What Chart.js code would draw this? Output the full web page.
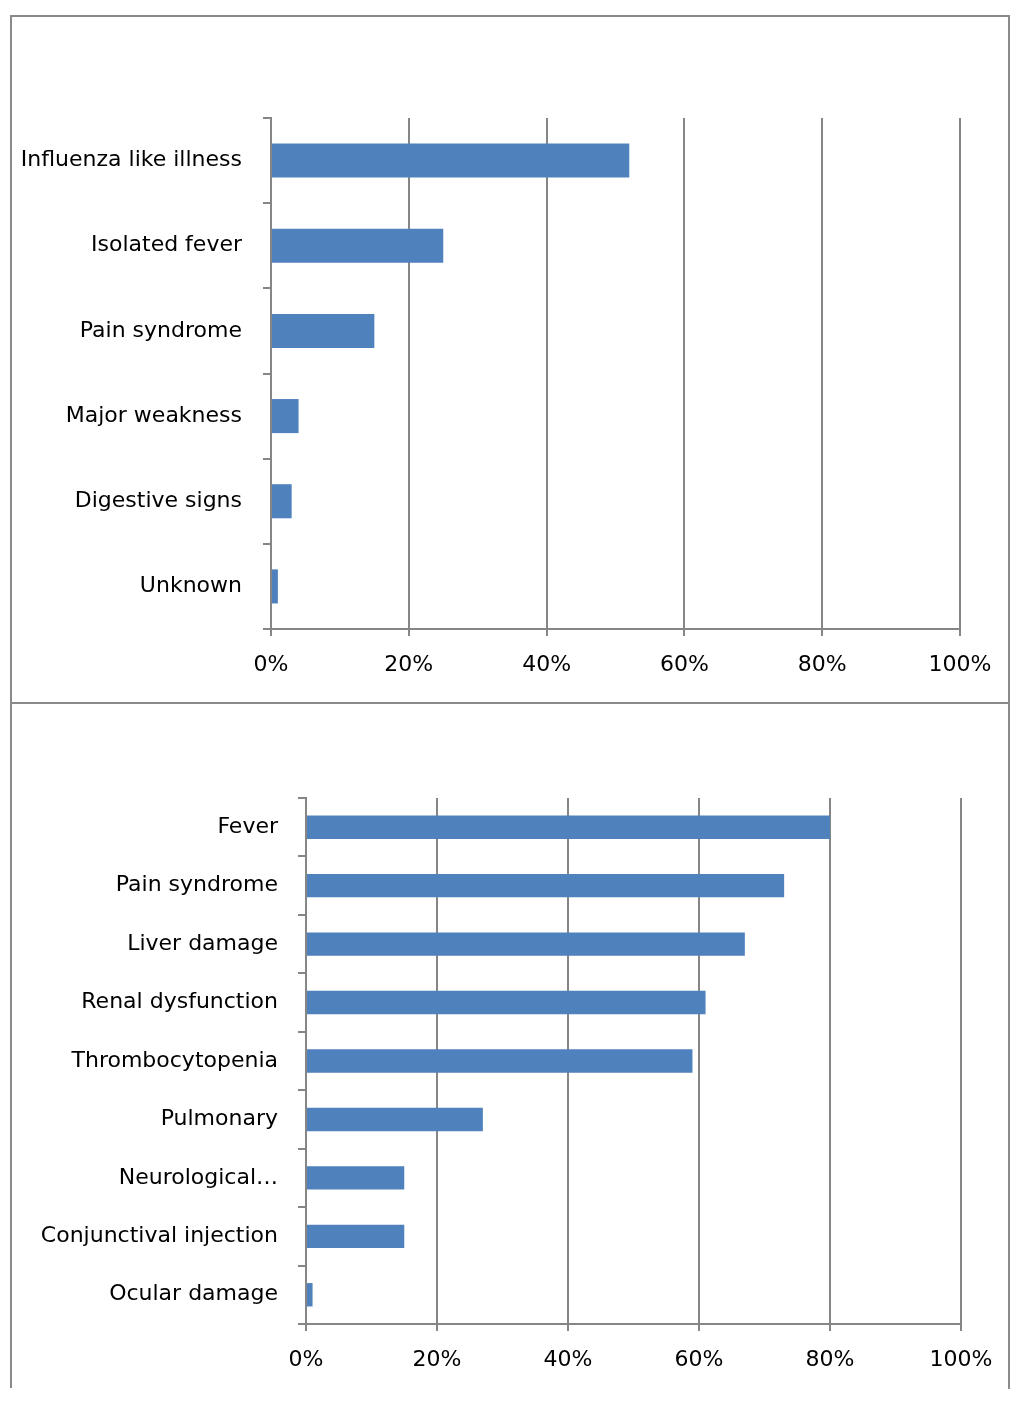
<!DOCTYPE html>
<html>
<head>
<meta charset="utf-8">
<script src="https://cdn.jsdelivr.net/npm/chart.js@4.4.0/dist/chart.umd.min.js"></script>
<style>
  html, body { margin: 0; padding: 0; background: #fff; }
  body { width: 1024px; height: 1409px; position: relative; overflow: hidden; }
  .box { position: absolute; left: 0; width: 1024px; }
  .frame { position: absolute; background: #8a8a8a; }
</style>
</head>
<body>
<div class="box" style="top:0;height:703px"><canvas id="symptomsChart"></canvas></div>
<div class="box" style="top:703px;height:706px"><canvas id="signsChart"></canvas></div>

<!-- outer frame: top, left, right, divider -->
<div class="frame" style="left:10px;top:15px;width:1000px;height:2px"></div>
<div class="frame" style="left:10px;top:15px;width:2px;height:1373px"></div>
<div class="frame" style="left:1008px;top:15px;width:2px;height:1374px"></div>
<div class="frame" style="left:10px;top:702px;width:1000px;height:2px"></div>

<script>
// top chart: first symptoms
const symptomLabels = ['Influenza like illness', 'Isolated fever', 'Pain syndrome', 'Major weakness', 'Digestive signs', 'Unknown'];
const symptomValues = [52, 25, 15, 4, 3, 1];

// bottom chart: clinical signs
const signLabels = ['Fever', 'Pain syndrome', 'Liver damage', 'Renal dysfunction', 'Thrombocytopenia', 'Pulmonary', 'Neurological\u2026', 'Conjunctival injection', 'Ocular damage'];
const signValues = [80, 73, 67, 61, 59, 27, 15, 15, 1];

const xTicks = [0, 20, 40, 60, 80, 100];

const gridGray = '#868686';
const barBlue = '#4F81BD';
const labelFont = { family: 'DejaVu Sans, sans-serif', size: 22 };

function makeChart(id, labels, values, box) {
  const ctx = document.getElementById(id).getContext('2d');
  return new Chart(ctx, {
    type: 'bar',
    data: {
      labels: labels,
      datasets: [{
        data: values,
        backgroundColor: barBlue,
        borderWidth: 0,
        categoryPercentage: 1,
        barPercentage: 0.4
      }]
    },
    options: {
      indexAxis: 'y',
      responsive: true,
      maintainAspectRatio: false,
      animation: false,
      layout: { padding: { top: box.top, right: box.right, left: 0, bottom: 0 } },
      plugins: { legend: { display: false }, tooltip: { enabled: false } },
      scales: {
        x: {
          min: 0,
          max: 100,
          afterBuildTicks: axis => { axis.ticks = xTicks.map(v => ({ value: v })); },
          afterFit: axis => { axis.height = box.xAxisHeight; },
          ticks: {
            color: '#000',
            font: labelFont,
            padding: 16,
            callback: v => v + '%'
          },
          grid: { color: gridGray, lineWidth: 2, tickLength: 7 },
          border: { color: gridGray, width: 2 }
        },
        y: {
          afterFit: axis => { axis.width = box.yAxisWidth; },
          ticks: { color: '#000', font: labelFont, padding: box.labelPad, autoSkip: false },
          grid: { offset: true, drawOnChartArea: false, color: gridGray, lineWidth: 2, tickLength: 8 },
          border: { color: gridGray, width: 2 }
        }
      }
    }
  });
}

makeChart('symptomsChart', symptomLabels, symptomValues,
  { top: 118, right: 64, xAxisHeight: 74, yAxisWidth: 271, labelPad: 21 });
makeChart('signsChart', signLabels, signValues,
  { top: 95, right: 63, xAxisHeight: 85, yAxisWidth: 306, labelPad: 20 });
</script>
</body>
</html>
